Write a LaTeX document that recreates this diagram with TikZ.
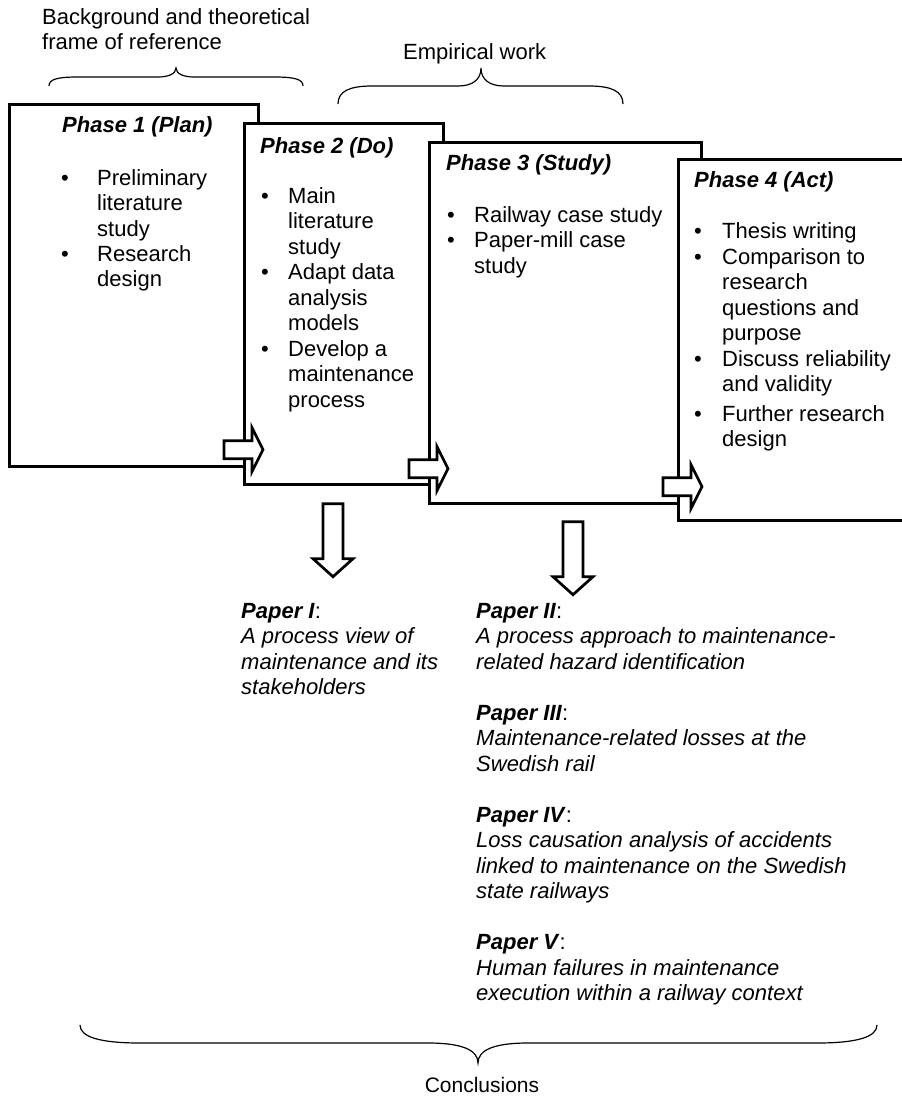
\documentclass[tikz,border=0pt]{standalone}
\usepackage{fontspec}
\setmainfont{Liberation Sans}
\usetikzlibrary{calc}
% multi-line text whose baseline is the first line
\newcommand{\boxtext}[2]{\parbox[t]{#1pt}{\fontsize{22}{25.5}\selectfont\raggedright #2}}
\begin{document}
\begin{tikzpicture}[x=1pt,y=-1pt,
  phasebox/.style={draw=black, line width=2.7pt, fill=white, inner sep=0pt, anchor=north west},
  blockarrow/.style={draw=black, line width=2.7pt, fill=white, line join=miter},
  bracepath/.style={draw=black, line width=1.2pt},
  txt/.style={inner sep=0pt, anchor=base west, font=\fontsize{22}{25.5}\selectfont},
  dot/.style={inner sep=0pt, anchor=base, font=\fontsize{22}{25.5}\selectfont},
  rightblock/.pic={\path[blockarrow] (0,-9) -- (28,-9) -- (28,-22) -- (39,0) -- (28,22) -- (28,9) -- (0,9) -- cycle;},
  downblock/.pic={\path[blockarrow] (-10,0) -- (10,0) -- (10,55) -- (20,55) -- (0,73) -- (-20,55) -- (-10,55) -- cycle;},
]
\useasboundingbox (0,0) rectangle (902,1103);

% labels above the phases
\node[txt] (bg) at (42,24) {\boxtext{300}{Background and theoretical\\frame of reference}};
\node[txt] (emp) at (403,59) {Empirical work};

% braces
\path[bracepath] (49,86) .. controls (49,79) and (58,77) .. (78,77) -- (158,77)
  .. controls (168,77) and (176,74) .. (176,68)
  .. controls (176,74) and (184,77) .. (194,77) -- (274,77)
  .. controls (294,77) and (303,79) .. (303,86);
\path[bracepath] (338,104) .. controls (338,91) and (350,86) .. (372,86) -- (458,86)
  .. controls (472,86) and (481,80) .. (481,68)
  .. controls (481,80) and (490,86) .. (504,86) -- (589,86)
  .. controls (611,86) and (623,91) .. (623,104);

% phase boxes, each one laid over the previous
\node[phasebox, minimum width=249pt, minimum height=362pt] (ph1) at (8,103) {};
\node[phasebox, minimum width=199pt, minimum height=361pt] (ph2) at (243,122) {};
\node[phasebox, minimum width=272pt, minimum height=361pt] (ph3) at (428,141) {};
\begin{scope}
  \clip (0,0) rectangle (902,1103);
  \node[phasebox, minimum width=260pt, minimum height=361pt] (ph4) at (677,158) {};
\end{scope}

% phase headings
\node[txt] (h1) at (62,132) {\textbf{\textit{Phase 1 (Plan)}}};
\node[txt] (h2) at (260,153) {\textbf{\textit{Phase 2 (Do)}}};
\node[txt] (h3) at (446,170) {\textbf{\textit{Phase 3 (Study)}}};
\node[txt] (h4) at (694,187) {\textbf{\textit{Phase 4 (Act)}}};

% phase 1 items
\node[dot] (b11) at (65,185) {•};
\node[txt] (i11) at (97,185) {\boxtext{150}{Preliminary\\literature\\study}};
\node[dot] (b12) at (65,261) {•};
\node[txt] (i12) at (97,261) {\boxtext{150}{Research\\design}};

% phase 2 items
\node[dot] (b21) at (265,203) {•};
\node[txt] (i21) at (288,203) {\boxtext{150}{Main\\literature\\study}};
\node[dot] (b22) at (265,279.5) {•};
\node[txt] (i22) at (288,279.5) {\boxtext{150}{Adapt data\\analysis\\models}};
\node[dot] (b23) at (265,356) {•};
\node[txt] (i23) at (288,356) {\boxtext{150}{Develop a\\maintenance\\process}};

% phase 3 items
\node[dot] (b31) at (451,222) {•};
\node[txt] (i31) at (474,222) {\boxtext{200}{Railway case study}};
\node[dot] (b32) at (451,247.5) {•};
\node[txt] (i32) at (474,247.5) {\boxtext{200}{Paper-mill case\\study}};

% phase 4 items
\node[dot] (b41) at (698,238) {•};
\node[txt] (i41) at (722,238) {\boxtext{180}{Thesis writing}};
\node[dot] (b42) at (698,264) {•};
\node[txt] (i42) at (722,264) {\boxtext{180}{Comparison to\\research\\questions and\\purpose}};
\node[dot] (b43) at (698,366) {•};
\node[txt] (i43) at (722,366) {\boxtext{180}{Discuss reliability\\and validity}};
\node[dot] (b44) at (698,421) {•};
\node[txt] (i44) at (722,421) {\boxtext{180}{Further research\\design}};

% flow arrows between the phases
\pic at ($(ph2.south west)+(-19,-36)$) {rightblock};
\pic at ($(ph3.south west)+(-19,-36)$) {rightblock};
\pic at ($(ph4.south west)+(-14,-35)$) {rightblock};

% output arrows
\pic at ($(ph2.south west)+(90,18)$) {downblock};
\pic at ($(ph3.south west)+(145,17)$) {downblock};

% papers
\node[txt] (pap1) at (241,618) {\boxtext{230}{\textbf{\textit{Paper I}}:\\\textit{A process view of}\\\textit{maintenance and its}\\\textit{stakeholders}}};
\node[txt] (pap2) at (476,618) {\boxtext{420}{\textbf{\textit{Paper II}}:\\\textit{A process approach to maintenance-}\\\textit{related hazard identification}}};
\node[txt] (pap3) at (476,720) {\boxtext{420}{\textbf{\textit{Paper III}}:\\\textit{Maintenance-related losses at the}\\\textit{Swedish rail}}};
\node[txt] (pap4) at (476,822) {\boxtext{420}{\textbf{\textit{Paper IV}}:\\\textit{Loss causation analysis of accidents}\\\textit{linked to maintenance on the Swedish}\\\textit{state railways}}};
\node[txt] (pap5) at (476,949.5) {\boxtext{420}{\textbf{\textit{Paper V}}:\\\textit{Human failures in maintenance}\\\textit{execution within a railway context}}};

% closing brace and label
\path[bracepath] (80,1025) .. controls (80,1037) and (100,1043) .. (140,1043) -- (428,1043)
  .. controls (462,1043) and (478,1050) .. (478,1063)
  .. controls (478,1050) and (494,1043) .. (528,1043) -- (817,1043)
  .. controls (857,1043) and (877,1037) .. (877,1025);
\node[dot, font=\fontsize{21}{25}\selectfont] (concl) at (482,1092) {Conclusions};
\end{tikzpicture}
\end{document}
